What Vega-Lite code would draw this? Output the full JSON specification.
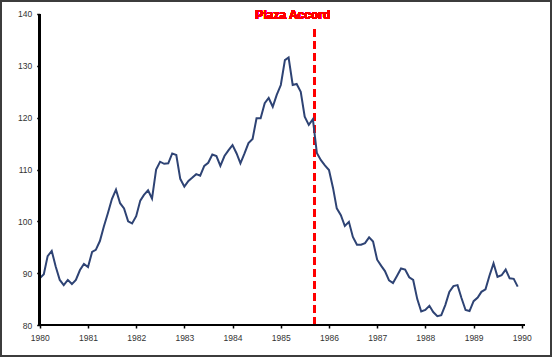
{
  "$schema": "https://vega.github.io/schema/vega-lite/v6.json",
  "width": 552,
  "height": 357,
  "autosize": "none",
  "padding": 0,
  "background": "white",
  "config": {"view": {"stroke": "#3c3c3c", "strokeWidth": 4}, "font": "Liberation Sans"},
  "data": {"values": [
    {"date":"1980-01-01","v":89.0},{"date":"1980-02-01","v":89.8},{"date":"1980-03-01","v":93.3},{"date":"1980-04-01","v":94.3},{"date":"1980-05-01","v":91.3},{"date":"1980-06-01","v":88.7},{"date":"1980-07-01","v":87.7},{"date":"1980-08-01","v":88.7},{"date":"1980-09-01","v":87.9},{"date":"1980-10-01","v":88.7},{"date":"1980-11-01","v":90.6},{"date":"1980-12-01","v":91.8},
    {"date":"1981-01-01","v":91.2},{"date":"1981-02-01","v":94.1},{"date":"1981-03-01","v":94.5},{"date":"1981-04-01","v":96.2},{"date":"1981-05-01","v":99.0},{"date":"1981-06-01","v":101.6},{"date":"1981-07-01","v":104.3},{"date":"1981-08-01","v":106.1},{"date":"1981-09-01","v":103.5},{"date":"1981-10-01","v":102.5},{"date":"1981-11-01","v":100.0},{"date":"1981-12-01","v":99.6},
    {"date":"1982-01-01","v":101.0},{"date":"1982-02-01","v":104.0},{"date":"1982-03-01","v":105.1},{"date":"1982-04-01","v":106.0},{"date":"1982-05-01","v":104.4},{"date":"1982-06-01","v":110.0},{"date":"1982-07-01","v":111.5},{"date":"1982-08-01","v":111.1},{"date":"1982-09-01","v":111.2},{"date":"1982-10-01","v":113.1},{"date":"1982-11-01","v":112.8},{"date":"1982-12-01","v":108.2},
    {"date":"1983-01-01","v":106.7},{"date":"1983-02-01","v":107.8},{"date":"1983-03-01","v":108.4},{"date":"1983-04-01","v":109.1},{"date":"1983-05-01","v":108.8},{"date":"1983-06-01","v":110.7},{"date":"1983-07-01","v":111.3},{"date":"1983-08-01","v":112.9},{"date":"1983-09-01","v":112.6},{"date":"1983-10-01","v":110.7},{"date":"1983-11-01","v":112.6},{"date":"1983-12-01","v":113.7},
    {"date":"1984-01-01","v":114.7},{"date":"1984-02-01","v":113.1},{"date":"1984-03-01","v":111.2},{"date":"1984-04-01","v":113.1},{"date":"1984-05-01","v":115.1},{"date":"1984-06-01","v":115.9},{"date":"1984-07-01","v":119.9},{"date":"1984-08-01","v":119.9},{"date":"1984-09-01","v":122.8},{"date":"1984-10-01","v":123.8},{"date":"1984-11-01","v":122.1},{"date":"1984-12-01","v":124.4},
    {"date":"1985-01-01","v":126.3},{"date":"1985-02-01","v":131.1},{"date":"1985-03-01","v":131.6},{"date":"1985-04-01","v":126.3},{"date":"1985-05-01","v":126.5},{"date":"1985-06-01","v":125.0},{"date":"1985-07-01","v":120.2},{"date":"1985-08-01","v":118.6},{"date":"1985-09-01","v":119.7},{"date":"1985-10-01","v":113.2},{"date":"1985-11-01","v":111.8},{"date":"1985-12-01","v":110.8},
    {"date":"1986-01-01","v":109.9},{"date":"1986-02-01","v":106.4},{"date":"1986-03-01","v":102.5},{"date":"1986-04-01","v":101.2},{"date":"1986-05-01","v":99.1},{"date":"1986-06-01","v":99.9},{"date":"1986-07-01","v":97.0},{"date":"1986-08-01","v":95.5},{"date":"1986-09-01","v":95.5},{"date":"1986-10-01","v":95.8},{"date":"1986-11-01","v":96.9},{"date":"1986-12-01","v":96.1},
    {"date":"1987-01-01","v":92.6},{"date":"1987-02-01","v":91.4},{"date":"1987-03-01","v":90.4},{"date":"1987-04-01","v":88.6},{"date":"1987-05-01","v":88.1},{"date":"1987-06-01","v":89.5},{"date":"1987-07-01","v":90.9},{"date":"1987-08-01","v":90.7},{"date":"1987-09-01","v":89.2},{"date":"1987-10-01","v":88.7},{"date":"1987-11-01","v":85.0},{"date":"1987-12-01","v":82.6},
    {"date":"1988-01-01","v":82.9},{"date":"1988-02-01","v":83.7},{"date":"1988-03-01","v":82.5},{"date":"1988-04-01","v":81.7},{"date":"1988-05-01","v":81.9},{"date":"1988-06-01","v":83.9},{"date":"1988-07-01","v":86.4},{"date":"1988-08-01","v":87.5},{"date":"1988-09-01","v":87.7},{"date":"1988-10-01","v":85.2},{"date":"1988-11-01","v":82.9},{"date":"1988-12-01","v":82.7},
    {"date":"1989-01-01","v":84.6},{"date":"1989-02-01","v":85.3},{"date":"1989-03-01","v":86.4},{"date":"1989-04-01","v":86.9},{"date":"1989-05-01","v":89.5},{"date":"1989-06-01","v":91.9},{"date":"1989-07-01","v":89.3},{"date":"1989-08-01","v":89.6},{"date":"1989-09-01","v":90.7},{"date":"1989-10-01","v":89.0},{"date":"1989-11-01","v":88.9},{"date":"1989-12-01","v":87.4}
  ]},
  "layer": [
    {
      "mark": {"type": "rule", "color": "#FF0000", "strokeWidth": 2, "strokeDash": [8, 4]},
      "encoding": {
        "x": {"datum": {"year": 1985, "month": 9, "date": 14, "utc": true}, "type": "temporal"},
        "y": {"datum": 80, "type": "quantitative"},
        "y2": {"datum": 137.5}
      }
    },
    {
      "mark": {"type": "line", "color": "#2E4374", "strokeWidth": 2},
      "encoding": {
        "x": {
          "field": "date", "type": "temporal",
          "scale": {"type": "utc", "domain": [{"year": 1979, "month": 3, "date": 6, "utc": true}, {"year": 1990, "month": 8, "date": 18, "utc": true}]},
          "axis": {
            "orient": "bottom", "offset": -32, "title": null, "domain": false, "grid": false,
            "values": [{"year":1980,"utc":true},{"year":1981,"utc":true},{"year":1982,"utc":true},{"year":1983,"utc":true},{"year":1984,"utc":true},{"year":1985,"utc":true},{"year":1986,"utc":true},{"year":1987,"utc":true},{"year":1988,"utc":true},{"year":1989,"utc":true},{"year":1990,"utc":true}],
            "format": "%Y", "tickSize": 3, "tickColor": "black", "tickWidth": 1.5,
            "labelFontSize": 8.5, "labelColor": "#333333", "labelPadding": 5, "labelFlush": false, "labelOverlap": false
          }
        },
        "y": {
          "field": "v", "type": "quantitative",
          "scale": {"domain": [73.83, 142.7], "nice": false, "zero": false},
          "axis": {
            "orient": "left", "offset": -39.7, "title": null, "domain": false, "grid": false,
            "values": [80, 90, 100, 110, 120, 130, 140],
            "tickSize": 3, "tickColor": "black", "tickWidth": 1.5,
            "labelFontSize": 8.5, "labelColor": "#333333", "labelPadding": 5, "labelFlush": false, "labelOverlap": false
          }
        }
      }
    },
    {
      "mark": {"type": "rule", "color": "black", "strokeWidth": 2},
      "encoding": {
        "x": {"datum": {"year": 1980, "utc": true}, "type": "temporal"},
        "y": {"datum": 80, "type": "quantitative"},
        "y2": {"datum": 140}
      }
    },
    {
      "mark": {"type": "rule", "color": "black", "strokeWidth": 2},
      "encoding": {
        "x": {"datum": {"year": 1980, "utc": true}, "type": "temporal"},
        "x2": {"datum": {"year": 1990, "month": 1, "date": 20, "utc": true}},
        "y": {"datum": 80, "type": "quantitative"}
      }
    },
    {
      "mark": {"type": "text", "text": "Plaza Accord", "color": "#FF0000", "fontSize": 12, "fontWeight": "bold", "align": "center", "baseline": "alphabetic", "font": "Liberation Sans"},
      "encoding": {
        "x": {"datum": {"year": 1985, "month": 4, "date": 2, "utc": true}, "type": "temporal"},
        "y": {"datum": 139.1, "type": "quantitative"}
      }
    }
  ]
}
